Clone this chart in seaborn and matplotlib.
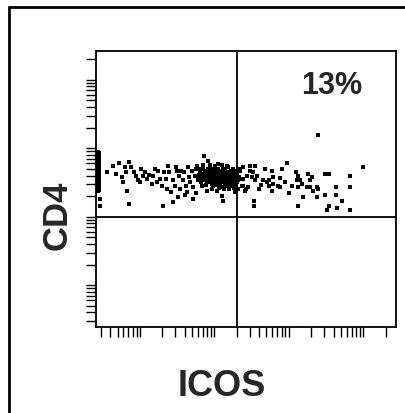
import numpy as np
import matplotlib
matplotlib.use('Agg')
import matplotlib.pyplot as plt
from matplotlib.ticker import LogLocator, NullFormatter
from matplotlib.lines import Line2D
import seaborn as sns

sns.set_style('ticks')
plt.rcParams['font.family'] = ['Liberation Sans', 'DejaVu Sans']

# log10 fluorescence (ICOS on x, CD4 on y)
icos_log = [
    0.56, 0.64, 0.72, 0.80, 0.85, 0.81, 0.76, 0.77, 0.83, 0.85, 0.92, 0.95, 0.97, 1.00, 1.04,
    1.07, 1.09, 1.12, 1.16, 1.20, 1.24, 1.27, 1.30, 1.31, 1.32, 1.35, 1.36, 1.39, 1.42, 1.44,
    1.44, 1.47, 1.50, 1.52, 1.54, 1.58, 1.59, 1.62, 1.63, 1.66, 1.67, 1.70, 1.71, 1.74, 1.75,
    1.77, 1.78, 1.81, 1.83, 1.85, 1.86, 1.87, 1.90, 1.90, 1.91, 1.93, 1.94, 1.97, 1.98, 1.98,
    2.01, 2.02, 2.03, 2.05, 2.06, 2.09, 2.10, 2.11, 2.11, 2.13, 2.14, 2.17, 2.17, 2.18, 2.19,
    2.21, 2.23, 2.25, 2.26, 2.28, 2.30, 2.32, 2.34, 2.37, 2.38, 2.42, 2.44,
    # dense core
    1.75, 1.79, 1.82, 1.85, 1.86, 1.89, 1.89, 1.91, 1.93, 1.94, 1.95, 1.95, 1.97, 1.98, 1.99,
    1.99, 2.01, 2.02, 2.03, 2.03, 2.05, 2.05, 2.06, 2.07, 2.07, 2.09, 2.09, 2.10, 2.10, 2.11,
    2.13, 2.14, 2.14, 2.15, 2.15, 2.17, 2.18, 2.19, 2.21, 2.22, 2.22, 2.23, 2.25, 2.26, 2.28,
    2.29, 2.29, 2.26, 2.19, 2.13, 2.06, 1.97, 1.89, 1.82, 1.78, 1.85, 1.94, 2.01, 2.10, 2.18,
    1.81, 1.83, 1.87, 1.90, 1.91, 1.93, 1.95, 1.97, 1.98, 1.99, 2.01, 2.02, 2.02, 2.03, 2.05,
    2.06, 2.06, 2.07, 2.07, 2.09, 2.10, 2.11, 2.13, 2.13, 2.14, 2.15, 2.17, 2.17, 2.18, 2.19,
    2.21, 2.21, 2.22, 2.23, 2.25, 2.26, 2.28, 2.29, 2.30, 2.33,
    # right of the vertical gate
    3.39, 3.99, 2.97, 2.48, 2.54, 2.68, 2.77, 2.91, 3.09, 3.26, 3.48, 3.54, 3.82, 3.12, 3.31,
    2.79, 2.88, 2.65, 2.70, 3.11, 3.15, 3.28, 2.95, 3.04, 3.12, 3.24, 3.28, 3.38, 3.39, 3.63,
    3.82, 2.74, 2.85, 2.88, 2.77, 3.00, 3.19, 3.38, 3.48, 3.63, 3.71, 2.53, 2.53, 3.12, 3.54,
    3.51, 3.64, 3.82,
    2.25, 2.34, 2.38, 2.48, 2.30, 2.37, 2.44, 2.50, 2.52, 2.28, 2.38, 2.45, 2.32, 2.41, 2.54,
    2.57, 2.74, 2.79, 3.17, 3.32, 2.62, 2.60,
    # events piled on the low edge
    0.44, 0.44, 0.44, 0.44, 0.44, 0.44, 0.44, 0.44, 0.44, 0.44, 0.44, 0.44, 0.44, 0.44, 0.44,
    0.44, 0.46, 0.47,
    0.45, 0.45, 0.45, 0.45, 0.45, 0.45, 0.45, 0.45, 0.45, 0.45, 0.45, 0.45, 0.45, 0.45, 0.45,
    # extra low-ICOS events
    0.68, 0.88, 1.01, 1.17, 1.23, 1.38, 1.48, 1.55, 1.64, 1.60, 1.71, 1.51,
]
cd4_log = [
    2.66, 2.74, 2.79, 2.73, 2.80, 2.66, 2.58, 2.51, 2.38, 2.18, 2.66, 2.60, 2.54, 2.51, 2.60,
    2.66, 2.55, 2.61, 2.48, 2.70, 2.67, 2.55, 2.45, 2.15, 2.66, 2.55, 2.41, 2.66, 2.36, 2.22,
    2.53, 2.45, 2.67, 2.60, 2.41, 2.53, 2.66, 2.45, 2.36, 2.58, 2.51, 2.67, 2.44, 2.60, 2.34,
    2.74, 2.53, 2.66, 2.45, 2.70, 2.89, 2.58, 2.51, 2.38, 2.82, 2.66, 2.55, 2.60, 2.70, 2.45,
    2.53, 2.66, 2.38, 2.77, 2.58, 2.51, 2.31, 2.70, 2.23, 2.55, 2.45, 2.63, 2.74, 2.53, 2.41,
    2.58, 2.67, 2.48, 2.55, 2.36, 2.63, 2.53, 2.70, 2.45, 2.55, 2.41, 2.60,
    # dense core
    2.69, 2.61, 2.57, 2.63, 2.54, 2.67, 2.61, 2.58, 2.50, 2.70, 2.64, 2.54, 2.48, 2.58, 2.66,
    2.51, 2.61, 2.57, 2.70, 2.47, 2.64, 2.54, 2.67, 2.60, 2.48, 2.63, 2.55, 2.66, 2.44, 2.60,
    2.50, 2.67, 2.57, 2.53, 2.61, 2.48, 2.64, 2.57, 2.51, 2.61, 2.45, 2.55, 2.61, 2.51, 2.58,
    2.47, 2.67, 2.42, 2.47, 2.41, 2.42, 2.41, 2.47, 2.50, 2.58, 2.76, 2.76, 2.74, 2.76, 2.73,
    2.70, 2.60, 2.64, 2.55, 2.69, 2.61, 2.67, 2.57, 2.51, 2.70, 2.55, 2.64, 2.50, 2.60, 2.70,
    2.61, 2.51, 2.66, 2.55, 2.58, 2.53, 2.64, 2.60, 2.69, 2.50, 2.57, 2.66, 2.55, 2.60, 2.53,
    2.64, 2.55, 2.67, 2.50, 2.57, 2.64, 2.54, 2.60, 2.51, 2.58,
    # right of the vertical gate
    3.20, 2.72, 2.79, 2.74, 2.74, 2.69, 2.67, 2.69, 2.66, 2.63, 2.63, 2.63, 2.60, 2.60, 2.58,
    2.58, 2.57, 2.53, 2.51, 2.54, 2.53, 2.53, 2.51, 2.45, 2.44, 2.44, 2.44, 2.44, 2.41, 2.44,
    2.44, 2.45, 2.45, 2.44, 2.38, 2.35, 2.29, 2.29, 2.32, 2.32, 2.23, 2.23, 2.16, 2.15, 2.16,
    2.10, 2.13, 2.10,
    2.70, 2.67, 2.72, 2.67, 2.58, 2.55, 2.60, 2.58, 2.66, 2.48, 2.45, 2.44, 2.41, 2.38, 2.53,
    2.60, 2.53, 2.48, 2.48, 2.38, 2.47, 2.40,
    # events piled on the low edge
    2.95, 2.90, 2.86, 2.82, 2.78, 2.75, 2.71, 2.68, 2.64, 2.60, 2.57, 2.53, 2.49, 2.45, 2.41,
    2.37, 2.26, 2.16,
    2.93, 2.88, 2.84, 2.80, 2.76, 2.73, 2.70, 2.66, 2.62, 2.59, 2.55, 2.51, 2.47, 2.43, 2.39,
    # extra low-ICOS events
    2.63, 2.73, 2.70, 2.60, 2.51, 2.74, 2.73, 2.67, 2.73, 2.32, 2.26, 2.29,
]

icos = 10 ** np.array(icos_log)
cd4 = 10 ** np.array(cd4_log)

x_gate = 200
y_gate = 100
quad_label = '13%'

fig = plt.figure(figsize=(4.05, 4.14), dpi=100)
ax = fig.add_axes([0.237, 0.2077, 0.741, 0.6667])

sns.scatterplot(x=icos, y=cd4, ax=ax, color='black', marker='s', s=5,
                linewidth=0, legend=False)

ax.set_xscale('log')
ax.set_yscale('log')
ax.set_xlim(10 ** 0.41, 10 ** 4.44)
ax.set_ylim(10 ** 0.39, 10 ** 4.42)

ax.axvline(x_gate, color='black', lw=1.3)
ax.axhline(y_gate, color='black', lw=1.3)

for axis in (ax.xaxis, ax.yaxis):
    axis.set_major_locator(LogLocator(base=10))
    axis.set_minor_locator(LogLocator(base=10, subs=np.arange(2, 10)))
    axis.set_major_formatter(NullFormatter())
    axis.set_minor_formatter(NullFormatter())
ax.tick_params(which='both', direction='out', length=7.5, width=1.0, color='black')

for sp in ax.spines.values():
    sp.set_color('black')
    sp.set_linewidth(1.3)

ax.text(0.683, 0.93, quad_label, transform=ax.transAxes, ha='left', va='top',
        fontsize=22, fontweight='bold')

fig.text(222 / 405, 1 - 387 / 414, 'ICOS', ha='center', va='center',
         fontsize=26, fontweight='bold')
fig.text(57 / 405, 1 - 215 / 414, 'CD4', ha='center', va='center', rotation=90,
         fontsize=25, fontweight='bold')

# outer frame (only left and top edges fall inside the image)
fig.add_artist(Line2D([9 / 405, 9 / 405], [0, 1 - 8 / 414], color='black', lw=2))
fig.add_artist(Line2D([9 / 405, 1], [1 - 8 / 414, 1 - 8 / 414], color='black', lw=2))

fig.savefig('out.png', dpi=100)
